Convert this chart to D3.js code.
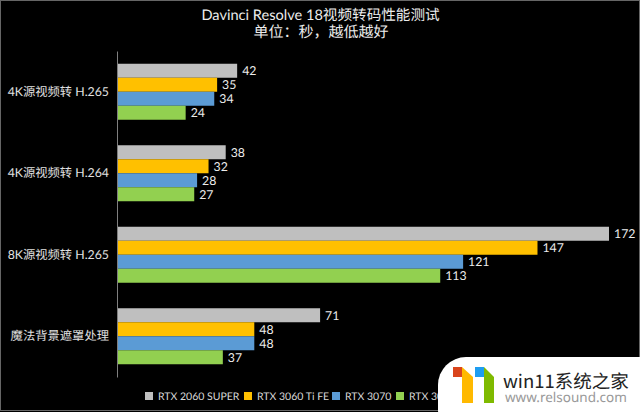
<!DOCTYPE html>
<html>
<head>
<meta charset="utf-8">
<script src="https://cdn.jsdelivr.net/npm/d3@7"></script>
<style>
html, body { margin: 0; padding: 0; background: #000; }
svg { display: block; }
text { font-family: Lato, "Noto Sans CJK SC", sans-serif; text-rendering: geometricPrecision; }
</style>
</head>
<body>
<div id="canvas"></div>
<script>
var categories = ["4K源视频转 H.265", "4K源视频转 H.264", "8K源视频转 H.265", "魔法背景遮罩处理"];
var seriesNames = ["RTX 2060 SUPER", "RTX 3060 Ti FE", "RTX 3070", "RTX 3070 Ti"];
var seriesColors = ["#bfbfbf", "#ffc000", "#5b9bd5", "#92d050"];
var rtx2060s = [42, 38, 172, 71];
var rtx3060ti = [35, 32, 147, 48];
var rtx3070 = [34, 28, 121, 48];
var rtx3070ti = [24, 27, 113, 37];
var seriesValues = [rtx2060s, rtx3060ti, rtx3070, rtx3070ti];

var width = 640, height = 412;

var svg = d3.select("#canvas").append("svg")
	.attr("width", width)
	.attr("height", height);

svg.append("rect")
	.attr("x", 0.5).attr("y", 0.5)
	.attr("width", width - 1).attr("height", height - 2)
	.attr("fill", "#000")
	.attr("stroke", "#666");

// title
svg.append("text").text("Davinci Resolve 18视频转码性能测试")
	.attr("x", 320.5).attr("y", 20)
	.attr("text-anchor", "middle").attr("fill", "#ececec").attr("font-size", 14.6);
svg.append("text").text("单位：秒，越低越好")
	.attr("x", 321).attr("y", 37)
	.attr("text-anchor", "middle").attr("fill", "#ececec").attr("font-size", 15);

var x = d3.scaleLinear().domain([0, 172]).range([117, 609]);
var y = d3.scaleBand().domain(categories).range([51, 377]);
var inner = d3.scaleBand().domain(d3.range(4)).range([0, 56]);

// bars
var groups = svg.selectAll("g.cat")
	.data(categories)
	.enter()
	.append("g")
	.attr("class", "cat")
	.attr("transform", function(d) { return "translate(0," + (y(d) + (y.bandwidth() - 56) / 2) + ")"; });

groups.each(function(d, c) {
	var g = d3.select(this);
	seriesValues.forEach(function(vals, s) {
		g.append("rect")
			.attr("x", x(0))
			.attr("y", inner(s))
			.attr("width", x(vals[c]) - x(0))
			.attr("height", inner.bandwidth())
			.attr("fill", seriesColors[s]);
		g.append("text")
			.text(vals[c])
			.attr("x", x(vals[c]) + 5)
			.attr("y", inner(s) + inner.bandwidth() / 2 + 4.5)
			.attr("fill", "#ececec")
			.attr("font-size", 12.3);
	});
});

// axis
var axis = svg.append("g")
	.attr("transform", "translate(" + x(0) + ",0)")
	.call(d3.axisLeft(y).tickSize(0).tickPadding(8));
axis.select(".domain").attr("stroke", "#7f7f7f");
axis.selectAll("text")
	.attr("fill", "#e0e0e0")
	.attr("font-size", 12.3)
	.style("font-family", "Lato, \"Noto Sans CJK SC\", sans-serif");

// legend
var legendX = [145, 244, 332, 396];
var legend = svg.selectAll("g.leg")
	.data(seriesNames)
	.enter()
	.append("g")
	.attr("class", "leg")
	.attr("transform", function(d, i) { return "translate(" + legendX[i] + ",396)"; });
legend.append("rect")
	.attr("y", -4).attr("width", 8).attr("height", 8)
	.attr("fill", function(d, i) { return seriesColors[i]; });
legend.append("text").text(function(d) { return d; })
	.attr("x", 13).attr("y", 4)
	.attr("fill", "#d9d9d9").attr("font-size", 10.5);

// watermark
var wm = svg.append("g");
wm.append("rect")
	.attr("x", 438).attr("y", 357).attr("width", 240).attr("height", 80)
	.attr("rx", 28).attr("fill", "#fff");
wm.append("rect").attr("x", 453).attr("y", 367).attr("width", 9).attr("height", 10).attr("fill", "#d9441c");
wm.append("path").attr("d", "M462 367 L473 377 V403 H462 Z").attr("fill", "#ffb900");
wm.append("rect").attr("x", 475).attr("y", 367).attr("width", 9).attr("height", 10).attr("fill", "#1e9df0");
wm.append("path").attr("d", "M484 367 L494 377 V403 H484 Z").attr("fill", "#7fba00");
wm.append("text").text("win11系统之家")
	.attr("x", 503).attr("y", 388)
	.attr("fill", "#222").attr("font-size", 18.5)
	.style("font-family", "\"Noto Sans CJK SC\", sans-serif");
wm.append("text").text("www.relsound.com")
	.attr("x", 505).attr("y", 402)
	.attr("fill", "#999").attr("font-size", 13.5)
	.style("font-family", "\"Noto Sans\", sans-serif");
</script>
</body>
</html>
